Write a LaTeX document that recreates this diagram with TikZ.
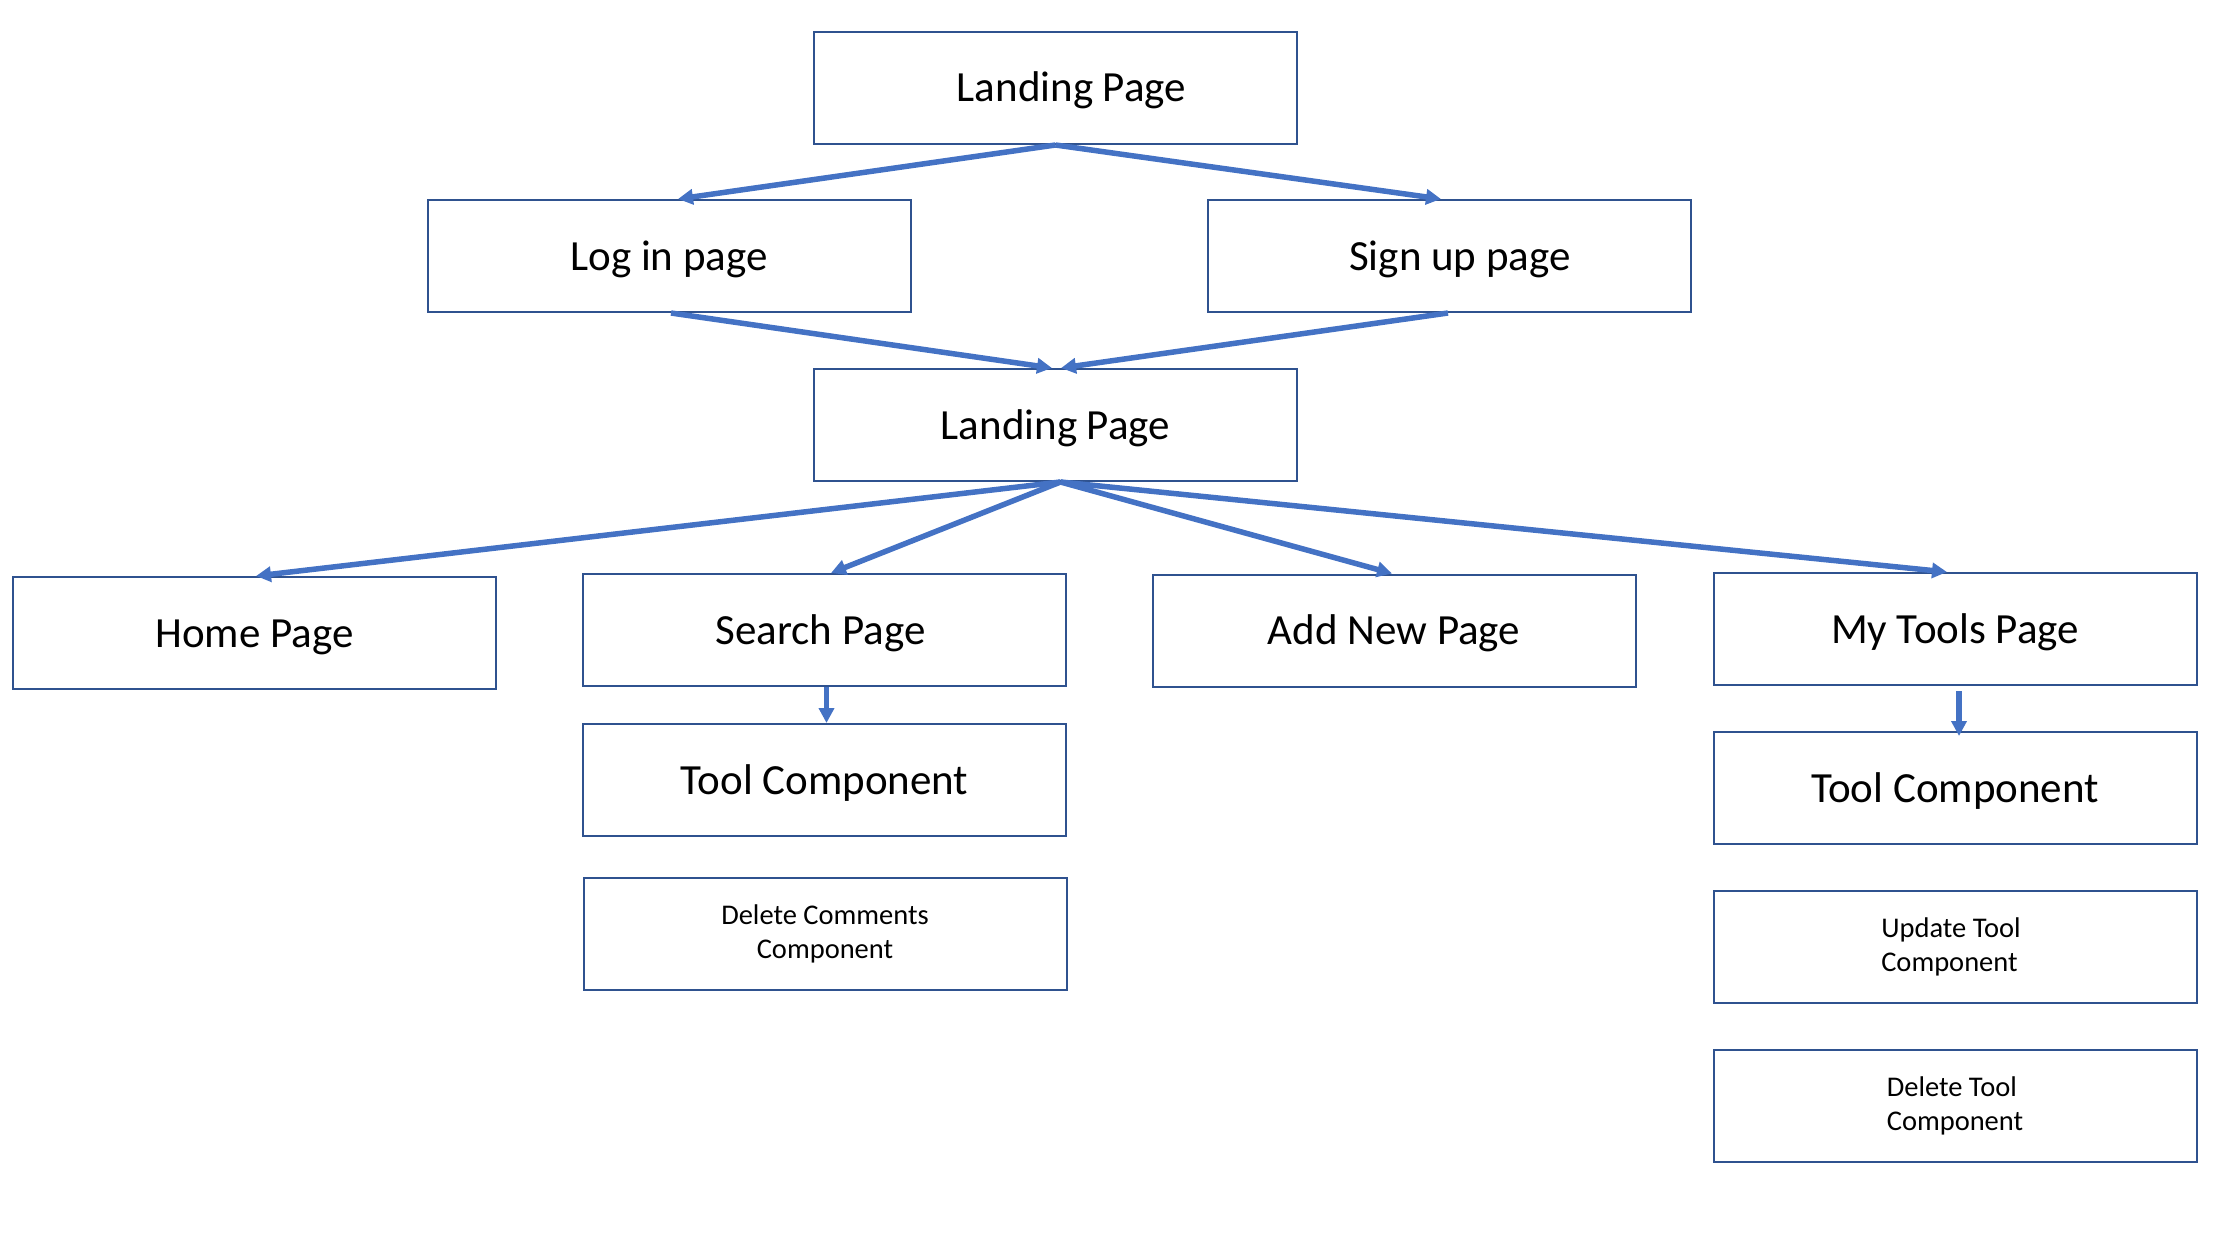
\documentclass[tikz,border=0pt]{standalone}
\usepackage{fontspec}
\setmainfont{Carlito}
\usetikzlibrary{arrows.meta}
\definecolor{boxline}{HTML}{2F528F}
\definecolor{link}{HTML}{4472C4}
\begin{document}
\begin{tikzpicture}[x=1pt,y=-1pt,
  page/.style={draw=boxline,line width=2pt,rectangle,minimum width=483pt,minimum height=112pt,inner sep=0pt,
    text height=36pt,text depth=8pt,font=\fontsize{43}{50}\selectfont},
  part/.style={draw=boxline,line width=2pt,rectangle,minimum width=483pt,minimum height=112pt,inner sep=0pt,
    font=\fontsize{28.5}{34}\selectfont},
  flow/.style={draw=link,line width=5.5pt,-{Triangle[length=15pt,width=15pt]}}]
\useasboundingbox (0,0) rectangle (2216,1252);
% page boxes
\node[page] (land1) at (1055.5,88) {\hspace*{32pt}Landing Page};
\node[page] (login) at (669,256) {Log in page};
\node[page] (signup) at (1449,256) {\hspace*{22pt}Sign up page};
\node[page] (land2) at (1055.5,425) {Landing Page};
\node[page] (home) at (254.5,633) {Home Page};
\node[page] (search) at (824.5,630) {Search Page\hspace*{8pt}};
\node[page] (addnew) at (1394,630.5) {Add New Page};
\node[page] (mytools) at (1955,629) {My Tools Page};
\node[page] (toolA) at (824.5,780) {Tool Component};
\node[part,align=center] (delcom) at (825,933.5) {Delete Comments\\Component};
\node[page] (toolB) at (1955,788) {Tool Component};
\node[part,align=left] (update) at (1955,947) {Update Tool\hspace*{8pt}\\Component};
\node[part,align=left] (deltool) at (1955,1105.5) {Delete Tool\\Component};
% connectors
\draw[flow] (land1.south) -- ([xshift=9pt]login.north);
\draw[flow] (land1.south) -- ([xshift=-8pt]signup.north);
\draw[flow] ([xshift=2pt]login.south) -- ([xshift=-3.5pt]land2.north);
\draw[flow] ([xshift=-1pt]signup.south) -- ([xshift=5.5pt]land2.north);
\coordinate (hub) at ([xshift=5pt]land2.south);
\draw[flow] (hub) -- ([xshift=1.5pt]home.north);
\draw[flow] (hub) -- ([xshift=6.5pt]search.north);
\draw[flow] (hub) -- ([xshift=-2pt]addnew.north);
\draw[flow] (hub) -- ([xshift=-8pt]mytools.north);
\draw[flow] ([xshift=2pt]search.south) -- ([xshift=2pt]toolA.north);
\draw[flow] ([xshift=4pt,yshift=-5pt]mytools.south) -- ([xshift=4pt,yshift=-5pt]toolB.north);
\end{tikzpicture}
\end{document}
